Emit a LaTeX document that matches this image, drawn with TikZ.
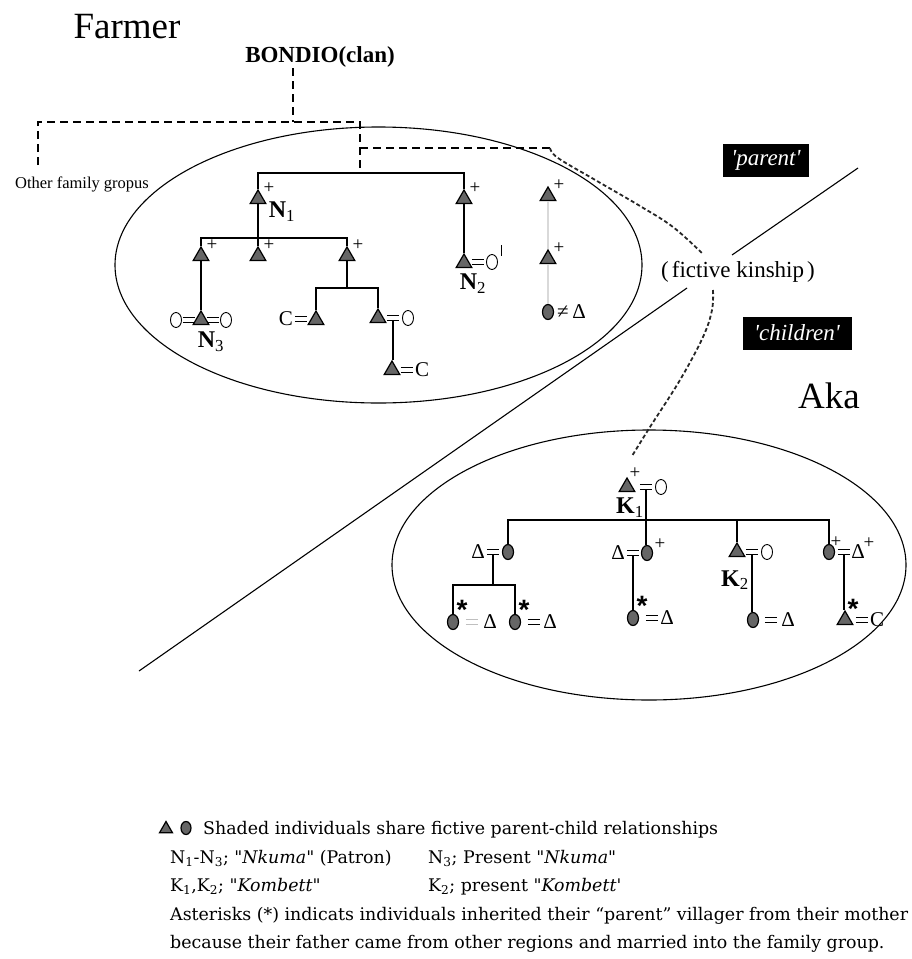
\documentclass[tikz,border=0pt]{standalone}
\usepackage{fontspec}
\setmainfont{Liberation Serif}
\newfontfamily\legfont{DejaVu Serif}
\newfontfamily\starfont{Liberation Sans}
\usetikzlibrary{shapes.geometric}
\newcommand{\fs}[1]{\fontsize{#1}{#1}\selectfont}
\newcommand{\eqm}[3][black]{\node[eqs] (#2) at (#3) {}; \draw[line width=1pt, #1] (#2.north west) -- (#2.north east) (#2.south west) -- (#2.south east);}
\begin{document}
\begin{tikzpicture}[x=1pt, y=-1pt,
  shtri/.style={regular polygon, regular polygon sides=3, minimum size=18pt, inner sep=0pt, draw=black, line width=1.2pt, fill=black!60},
  shcirc/.style={ellipse, minimum width=11pt, minimum height=15pt, inner sep=0pt, draw=black, line width=1.2pt, fill=black!60},
  ocirc/.style={ellipse, minimum width=11pt, minimum height=15pt, inner sep=0pt, draw=black, line width=0.9pt},
  sym/.style={inner sep=0pt, font=\fs{21}},
  plus/.style={inner sep=0pt, font=\fs{19}},
  star/.style={inner sep=0pt, anchor=north, font=\starfont\bfseries\fs{28}},
  eqs/.style={inner sep=0pt, minimum width=12pt, minimum height=5pt},
  lab/.style={inner sep=0pt, font=\fs{24}},
  tree/.style={line width=1.1pt},
  dashl/.style={line width=1.8pt, dash pattern=on 8pt off 5pt},
  fictl/.style={line width=1.8pt, black!85, dash pattern=on 4pt off 2.5pt},
  grp/.style={ellipse, draw, line width=1.1pt, inner sep=0pt},
  tag/.style={fill=black, text=white, inner sep=0pt, minimum height=33pt, font=\itshape\fs{23}},
  leg/.style={inner sep=0pt, anchor=base west, font=\legfont\fs{17.4}}
]
\useasboundingbox (0,0) rectangle (912,959);

% ---------- group ellipses ----------
\node[grp, minimum width=527pt, minimum height=276pt] (farmgrp) at (378.5,265) {};
\node[grp, minimum width=514pt, minimum height=270pt] (akagrp) at (649,565) {};

% ---------- titles ----------
\node[inner sep=0pt, font=\fs{37}] (farmer) at (127,27) {Farmer};
\node[inner sep=0pt, font=\fs{37}] (aka) at (829,396) {Aka};
\node[inner sep=0pt, font=\bfseries\fs{23}] (bondio) at (320,57) {BONDIO(clan)};
\node[inner sep=0pt, font=\fs{16.5}] (other) at (82,184) {Other family gropus};
\node[inner sep=0pt, font=\fs{23}] (fict) at (738,272) {(\hspace{3pt}fictive kinship\hspace{3pt})};
\node[tag, minimum width=86pt] (parent) at (766,160) {\textquotesingle parent\textquotesingle};
\node[tag, minimum width=109pt] (children) at (797,333) {\textquotesingle children\textquotesingle};

% ---------- Farmer symbols ----------
\node[shtri] (n1) at (258,199) {};
\node[plus] (n1p) at (269,188) {+};
\node[lab] (n1l) at (282,212) {\textbf{N}\textsubscript{1}};
\node[shtri] (f2) at (464,199) {};
\node[plus] (f2p) at (475,188) {+};
\node[shtri] (c1) at (201,256) {};
\node[plus] (c1p) at (212,245) {+};
\node[shtri] (c2) at (258,256) {};
\node[plus] (c2p) at (269,245) {+};
\node[shtri] (c3) at (347,256) {};
\node[plus] (c3p) at (358,245) {+};
\node[ocirc] (n3w1) at (176,320) {};
\eqm{n3e1}{189,320}
\node[shtri] (n3) at (201,320) {};
\eqm{n3e2}{213,320}
\node[ocirc] (n3w2) at (226,320) {};
\node[lab] (n3l) at (211,342) {\textbf{N}\textsubscript{3}};
\node[sym] (d1w) at (286,319) {C};
\eqm{d1e}{301,319}
\node[shtri] (d1) at (316,320) {};
\node[shtri] (d2) at (378,318) {};
\eqm{d2e}{393,318}
\node[ocirc] (d2w) at (408,318) {};
\node[shtri] (e1) at (392,370) {};
\eqm{e1e}{407,370}
\node[sym] (e1w) at (422,370) {C};
\node[shtri] (n2) at (464,263) {};
\eqm{n2e}{478,262}
\node[ocirc] (n2w) at (492,262) {};
\draw[line width=0.8pt] (501,245) -- (501,256);
\node[lab] (n2l) at (473,284) {\textbf{N}\textsubscript{2}};
\node[shtri] (g1) at (548,196) {};
\node[plus] (g1p) at (559,185) {+};
\node[shtri] (g2) at (548,259) {};
\node[plus] (g2p) at (559,248) {+};
\node[shcirc] (g3) at (548,312) {};
\node[sym] (g3n) at (563,312) {≠};
\node[sym] (g3h) at (579,312) {Δ};

% ---------- Farmer connectors ----------
\coordinate (j1) at (360,173);
\coordinate (j2) at (258,238);
\coordinate (j3) at (347,288);
\draw[tree] (n1.north) -- (n1.north |- j1) -- (f2.north |- j1) -- (f2.north);
\draw[tree] (n1.south) -- (j2);
\draw[tree] (c1.north) -- (c1.north |- j2) -- (c3.north |- j2) -- (c3.north);
\draw[tree] (j2) -- (c2.north);
\draw[tree] (c1.south) -- (n3.north);
\draw[tree] (c3.south) -- (j3);
\draw[tree] (d1.north) -- (d1.north |- j3) -- (d2.north |- j3) -- (d2.north);
\draw[tree] (d2e.south) -- (d2e.south |- e1.north);
\draw[tree] (f2.south) -- (n2.north);
\draw[line width=2pt, black!15] (g1.south) -- (g2.north);
\draw[line width=2pt, black!15] (g2.south) -- (g3.north);

% ---------- dashed clan lines ----------
\coordinate (b1) at (293,68);
\coordinate (b2) at (293,122);
\coordinate (b3) at (38,122);
\coordinate (b4) at (38,165);
\coordinate (b5) at (360,122);
\coordinate (b6) at (360,148);
\coordinate (b7) at (550,148);
\draw[dashl] (b1) -- (b2);
\draw[dashl] (b4) -- (b3) -- (b5) -- (j1);
\draw[dashl] (b6) -- (b7);

% ---------- fictive kinship link ----------
\coordinate (fk1) at (703,254);
\coordinate (fk2) at (713,290);
\coordinate (fk3) at (632,456);
\draw[fictl] plot[smooth, tension=0.6] coordinates {(b7) (558,158) (597,181) (640,206) (673,227) (fk1)};
\draw[fictl] plot[smooth, tension=0.6] coordinates {(fk2) (712,310) (703,337) (680,380) (650,427) (fk3)};

% ---------- diagonal boundary ----------
\coordinate (dA) at (858,168);
\coordinate (dB) at (732,255);
\coordinate (dC) at (687,288);
\coordinate (dD) at (139,671);
\draw[line width=1.1pt] (dA) -- (dB);
\draw[line width=1.1pt] (dC) -- (dD);

% ---------- Aka symbols ----------
\node[shtri] (k1) at (627,487) {};
\node[plus] (k1p) at (635,473) {+};
\eqm{k1e}{646,487}
\node[ocirc] (k1w) at (661,487) {};
\node[lab] (k1l) at (630,508) {\textbf{K}\textsubscript{1}};

\node[sym] (a1h) at (478,552) {Δ};
\eqm{a1e}{493,552}
\node[shcirc] (a1) at (508,552) {};
\node[sym] (a2h) at (618,553) {Δ};
\eqm{a2e}{633,553}
\node[shcirc] (a2) at (647,553) {};
\node[plus] (a2p) at (660,544) {+};
\node[shtri] (a3) at (737,552) {};
\eqm{a3e}{752,552}
\node[ocirc] (a3w) at (767,552) {};
\node[lab] (k2l) at (735,580) {\textbf{K}\textsubscript{2}};
\node[shcirc] (a4) at (829,552) {};
\node[plus] (a4p) at (836,542) {+};
\eqm{a4e}{844,552}
\node[sym] (a4h) at (858,552) {Δ};
\node[plus] (a4hp) at (869,543) {+};

\node[shcirc] (b1n) at (453,622) {};
\node[star] (b1s) at (462,600) {*};
\eqm[black!25]{b1e}{472,622}
\node[sym] (b1h) at (490,622) {Δ};
\node[shcirc] (b2n) at (515,622) {};
\node[star] (b2s) at (524,600) {*};
\eqm{b2e}{534,622}
\node[sym] (b2h) at (550,622) {Δ};
\node[shcirc] (b3n) at (633,618) {};
\node[star] (b3s) at (642,596) {*};
\eqm{b3e}{652,618}
\node[sym] (b3h) at (667,618) {Δ};
\node[shcirc] (b4n) at (753,620) {};
\eqm{b4e}{771,620}
\node[sym] (b4h) at (788,620) {Δ};
\node[shtri] (b5n) at (845,620) {};
\node[star] (b5s) at (853,599) {*};
\eqm{b5e}{862,620}
\node[sym] (b5w) at (877,620) {C};

% ---------- Aka connectors ----------
\coordinate (ak) at (646,520);
\coordinate (aj) at (493,585);
\draw[tree] (k1e.south) -- (k1e.south |- a2.north);
\draw[tree] (a1.north) -- (a1.north |- ak) -- (a4.north |- ak) -- (a4.north);
\draw[tree] (a3.north) -- (a3.north |- ak);
\draw[tree] (a1e.south) -- (aj);
\draw[tree] (b1n.north) -- (b1n.north |- aj) -- (b2n.north |- aj) -- (b2n.north);
\draw[tree] (a2e.south) -- (a2e.south |- b3n.north);
\draw[tree] (a3e.south) -- (a3e.south |- b4n.north);
\draw[tree] (a4e.south) -- (a4e.south |- b5n.north);

% ---------- legend ----------
\node[shtri, minimum size=15pt] (lt) at (166,829) {};
\node[shcirc, minimum width=10pt, minimum height=13pt] (lc) at (186,828) {};
\node[leg] (leg1) at (203,834) {Shaded individuals share fictive parent-child relationships};
\node[leg] (leg2a) at (170,863) {N\textsubscript{1}-N\textsubscript{3}; \textquotedbl\textit{Nkuma}\textquotedbl\ (Patron)};
\node[leg] (leg2b) at (428,863) {N\textsubscript{3}; Present \textquotedbl\textit{Nkuma}\textquotedbl};
\node[leg] (leg3a) at (170,891) {K\textsubscript{1},K\textsubscript{2}; \textquotedbl\textit{Kombett}\textquotedbl};
\node[leg] (leg3b) at (428,891) {K\textsubscript{2}; present \textquotedbl\textit{Kombett}\textquotesingle};
\node[leg] (leg4) at (170,920) {Asterisks (*) indicats individuals inherited their “parent” villager from their mother};
\node[leg] (leg5) at (170,948) {because their father came from other regions and married into the family group.};
\end{tikzpicture}
\end{document}
